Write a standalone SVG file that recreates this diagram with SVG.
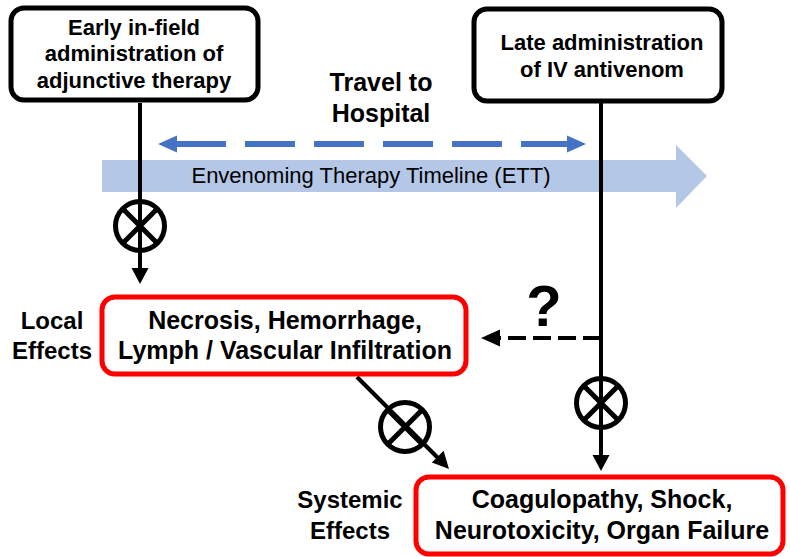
<svg xmlns="http://www.w3.org/2000/svg" width="790" height="557" viewBox="0 0 790 557">
<style>
text{font-family:"Liberation Sans",Arial,sans-serif;fill:#000;text-anchor:middle}
.b{font-weight:bold}
.box{fill:#fff;stroke:#000;stroke-width:5}
.red{fill:#fff;stroke:#f00;stroke-width:5}
.ln{stroke:#000;stroke-width:4;fill:none}
.circ{fill:none;stroke:#000;stroke-width:5}
.hd{fill:#000}
.bhd{fill:#4472C4}
</style>
<defs>
<g id="otimes"><circle r="24.5" class="circ"/><path d="M-17,-17L17,17M17,-17L-17,17" class="circ"/></g>
</defs>
<g id="ett">
<path d="M102,160H676V145L707,176L676,208V192H102z" fill="#B4C7E7"/>
<text x="371" y="183" font-size="22">Envenoming Therapy Timeline (ETT)</text>
</g>
<g id="travel">
<text class="b" x="381" y="91" font-size="25">Travel to</text>
<text class="b" x="381" y="122" font-size="25">Hospital</text>
</g>
<g id="connectors">
<line x1="176" y1="144" x2="568" y2="144" stroke="#4472C4" stroke-width="6" stroke-dasharray="50,19"/>
<path class="bhd" d="M158,144L177,135.5V152.5z"/>
<path class="bhd" d="M586,144L567,135.5V152.5z"/>
<line x1="140" y1="103" x2="140" y2="270" class="ln"/>
<path class="hd" d="M140,284L131.5,268H148.5z"/>
<use href="#otimes" x="140" y="226"/>
<line x1="601" y1="103" x2="601" y2="457" class="ln"/>
<path class="hd" d="M601,471L592.5,455H609.5z"/>
<use href="#otimes" x="601" y="403"/>
<line x1="601" y1="338" x2="497" y2="338" class="ln" stroke-dasharray="18,7"/>
<path class="hd" d="M481,338L500,329.5V346.5z"/>
<line x1="357" y1="377" x2="438" y2="458" class="ln"/>
<path class="hd" d="M449,469L431.9,462.4L443.6,450.7z"/>
<use href="#otimes" x="405" y="427"/>
<text class="b" x="544" y="326" font-size="58">?</text>
</g>
<g id="early">
<rect x="11" y="8" width="247" height="92" rx="13" class="box"/>
<text class="b" x="134" y="35" font-size="22">Early in-field</text>
<text class="b" x="134" y="61" font-size="22">administration of</text>
<text class="b" x="134" y="88" font-size="22">adjunctive therapy</text>
</g>
<g id="late">
<rect x="474" y="9" width="248" height="92" rx="13" class="box"/>
<text class="b" x="602" y="50" font-size="22">Late administration</text>
<text class="b" x="602" y="77" font-size="22">of IV antivenom</text>
</g>
<g id="local">
<rect x="102" y="297" width="364" height="77" rx="13" class="red"/>
<text class="b" x="285" y="329" font-size="25">Necrosis, Hemorrhage,</text>
<text class="b" x="285" y="359" font-size="25">Lymph / Vascular Infiltration</text>
<text class="b" x="52" y="329" font-size="24">Local</text>
<text class="b" x="52" y="359" font-size="24">Effects</text>
</g>
<g id="systemic">
<rect x="416" y="477" width="367" height="77" rx="13" class="red"/>
<text class="b" x="602" y="508" font-size="25">Coagulopathy, Shock,</text>
<text class="b" x="602" y="539" font-size="25">Neurotoxicity, Organ Failure</text>
<text class="b" x="350" y="508" font-size="24">Systemic</text>
<text class="b" x="350" y="539" font-size="24">Effects</text>
</g>
</svg>
